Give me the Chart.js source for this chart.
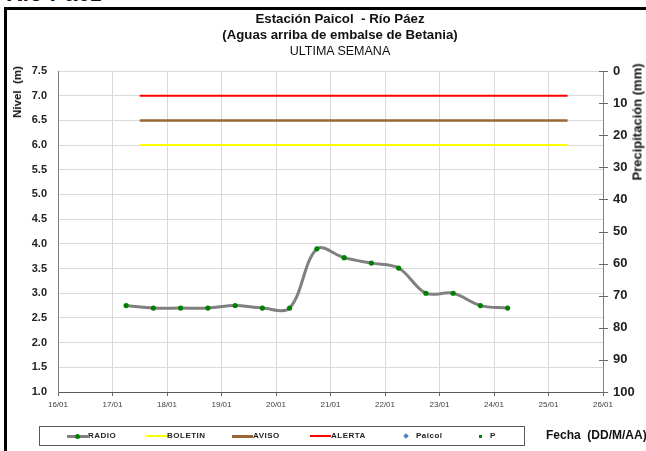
<!DOCTYPE html>
<html>
<head>
<meta charset="utf-8">
<script src="https://cdn.jsdelivr.net/npm/chart.js@4.4.1/dist/chart.umd.min.js"></script>
<style>
  html, body { margin: 0; padding: 0; background: #fff; }
  body { width: 646px; height: 451px; position: relative; overflow: hidden; font-family: "Liberation Sans", Arial, sans-serif; color: #111; }
  #chart { position: absolute; left: 0; top: 0; }
  .txt { position: absolute; white-space: nowrap; }
  .frame-l { position: absolute; left: 4px; top: 7px; width: 3px; height: 460px; background: #000; }
  .frame-t { position: absolute; left: 4px; top: 7px; width: 660px; height: 3px; background: #000; }
  .title { position: absolute; left: 140px; width: 400px; text-align: center; line-height: 16px; }
  .rot { position: absolute; transform: translate(-50%, -50%) rotate(-90deg); white-space: nowrap; font-weight: bold; }
  #legend { position: absolute; left: 39px; top: 426px; width: 486px; height: 20px; box-sizing: border-box; border: 1px solid #595959; }
  .li { position: absolute; top: 0; height: 18px; line-height: 18px; font-size: 8px; font-weight: bold; letter-spacing: 0.5px; color: #222; }
  .li span { display: inline-block; vertical-align: middle; }
</style>
</head>
<body>
<div class="txt" style="left:6px; top:-18.5px; font-size:23px; line-height:23px; font-weight:bold;">Río Páez</div>
<div class="frame-l"></div>
<div class="frame-t"></div>
<canvas id="chart" width="646" height="451"></canvas>
<div class="title" style="top:11px; font-size:13.3px; font-weight:bold;">Estación Paicol &nbsp;- Río Páez</div>
<div class="title" style="top:27px; font-size:13.2px; font-weight:bold;">(Aguas arriba de embalse de Betania)</div>
<div class="title" style="top:43px; font-size:12.5px;">ULTIMA SEMANA</div>
<div class="rot" style="left:17px; top:92px; font-size:11.5px;">Nivel &nbsp;(m)</div>
<div class="rot" style="left:637px; top:122px; font-size:13px;">Precipitación (mm)</div>
<div class="txt" style="left:546px; top:428px; font-size:12px; font-weight:bold;">Fecha &nbsp;(DD/M/AA)</div>
<div id="legend"></div>
<script>
// fechas en dias de enero (17.25 = 17/01 06:00)
const fechasRadio = [17.25, 17.75, 18.25, 18.75, 19.25, 19.75, 20.25, 20.75, 21.25, 21.75, 22.25, 22.75, 23.25, 23.75, 24.25];
const nivelRadio = [2.75, 2.70, 2.70, 2.70, 2.75, 2.70, 2.70, 3.90, 3.72, 3.61, 3.51, 3.00, 3.00, 2.75, 2.70];

// umbrales
const fechasUmbral = [17.5, 25.35];
const nivelBoletin = 6.0;
const nivelAviso = 6.5;
const nivelAlerta = 7.0;

// series sin datos en la semana
const nivelPaicol = [];
const precipP = [];

const diasEje = [16, 26];
const nivelEje = [1.0, 7.5];
const precipEje = [0, 100];

const pts = (xs, ys) => xs.map((x, i) => ({ x: x, y: ys[i] }));
const umbral = v => fechasUmbral.map(x => ({ x: x, y: v }));

const datasets = [
  { label: 'RADIO', data: pts(fechasRadio, nivelRadio), borderColor: '#808080', borderWidth: 3,
    pointRadius: 2.6, pointBackgroundColor: '#008000', pointBorderWidth: 0, tension: 0.35, order: 0 },
  { label: 'BOLETIN', data: umbral(nivelBoletin), borderColor: '#FFFF00', borderWidth: 2, pointRadius: 0, order: 1 },
  { label: 'AVISO', data: umbral(nivelAviso), borderColor: '#996633', borderWidth: 2.5, pointRadius: 0, order: 1 },
  { label: 'ALERTA', data: umbral(nivelAlerta), borderColor: '#FF0000', borderWidth: 2, pointRadius: 0, order: 1 },
  { label: 'Paicol', data: nivelPaicol, borderColor: '#4F81BD', showLine: false, pointRadius: 2, order: 2 },
  { label: 'P', data: precipP, yAxisID: 'y2', borderColor: '#008000', showLine: false, pointRadius: 1.5, order: 2 }
];

// marcas que cruzan el eje derecho
const cruzTicks = {
  id: 'cruzTicks',
  afterDraw(chart) {
    const s = chart.scales.y2;
    const ctx = chart.ctx;
    ctx.save();
    ctx.strokeStyle = '#666';
    ctx.lineWidth = 1;
    s.ticks.forEach(t => {
      const y = Math.round(s.getPixelForValue(t.value)) + 0.5;
      ctx.beginPath();
      ctx.moveTo(s.left - 4, y);
      ctx.lineTo(s.left + 5, y);
      ctx.stroke();
    });
    ctx.restore();
  }
};

const chart = new Chart(document.getElementById('chart').getContext('2d'), {
  type: 'line',
  data: { datasets: datasets },
  options: {
    responsive: false,
    animation: false,
    devicePixelRatio: 1,
    layout: { padding: { top: 71, bottom: 0, left: 0, right: 0 } },
    plugins: { legend: { display: false }, tooltip: { enabled: false } },
    events: [],
    scales: {
      x: {
        type: 'linear', min: diasEje[0], max: diasEje[1],
        ticks: { stepSize: 1, padding: 4, color: '#404040', font: { size: 8, family: 'Liberation Sans' },
          maxRotation: 0, callback: v => String(v).padStart(2, '0') + '/01' },
        grid: { color: '#d9d9d9', tickLength: 4, tickColor: '#666' },
        border: { color: '#595959' },
        afterFit: s => { s.height = 59; s.paddingLeft = 0; s.paddingRight = 0; }
      },
      y: {
        position: 'left', min: nivelEje[0], max: nivelEje[1],
        ticks: { stepSize: 0.5, padding: 11, color: '#222', font: { size: 11, weight: 'bold', family: 'Liberation Sans' },
          callback: v => v.toFixed(1) },
        grid: { color: '#d9d9d9', drawTicks: false },
        border: { color: '#808080' },
        afterFit: s => { s.width = 58; s.paddingTop = 0; s.paddingBottom = 0; }
      },
      y2: {
        position: 'right', reverse: true, min: precipEje[0], max: precipEje[1],
        ticks: { stepSize: 10, padding: 10, color: '#222', font: { size: 13, weight: 'bold', family: 'Liberation Sans' } },
        grid: { display: false, drawTicks: false },
        border: { display: true, color: '#808080' },
        afterFit: s => { s.width = 43; s.paddingTop = 0; s.paddingBottom = 0; }
      }
    }
  },
  plugins: [cruzTicks]
});

// leyenda con recuadro, construida desde las series
const legendX = [27, 106, 192, 270, 362, 437];
const legend = document.getElementById('legend');
chart.data.datasets.forEach((d, i) => {
  const item = document.createElement('div');
  item.className = 'li';
  item.style.left = legendX[i] + 'px';
  let mark;
  if (d.showLine === false) {
    const sz = d.label === 'P' ? 3 : 4;
    const rot = d.label === 'P' ? '' : 'transform: rotate(45deg);';
    mark = '<span style="width:' + sz + 'px;height:' + sz + 'px;background:' + d.borderColor + ';' + rot + 'margin:0 8px 0 2px;"></span>';
  } else if (d.pointRadius > 0) {
    mark = '<span style="position:relative;width:21px;height:3px;background:' + d.borderColor + ';">' +
      '<span style="position:absolute;left:8px;top:-1px;width:5px;height:5px;border-radius:50%;background:' + d.pointBackgroundColor + ';"></span></span>';
  } else {
    mark = '<span style="width:21px;height:' + Math.round(d.borderWidth) + 'px;background:' + d.borderColor + ';"></span>';
  }
  item.innerHTML = mark + '<span>' + d.label + '</span>';
  legend.appendChild(item);
});
</script>
</body>
</html>
